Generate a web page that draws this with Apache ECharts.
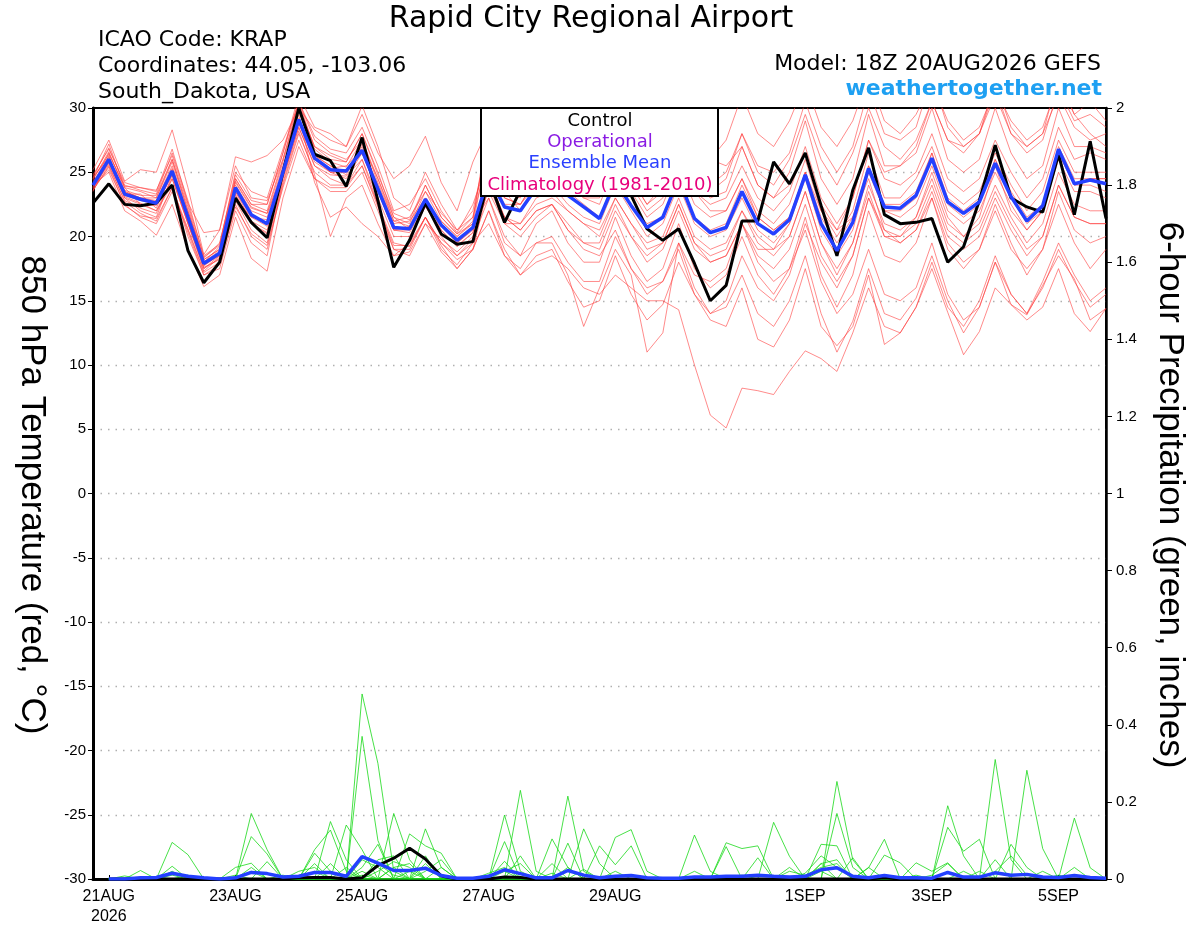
<!DOCTYPE html>
<html lang="en">
<head>
    <meta charset="UTF-8">
    <title>Rapid City Regional Airport | GEFS</title>
    <script src="https://cdn.jsdelivr.net/npm/echarts@6/dist/echarts.min.js"></script>
    <style>
        html, body { margin: 0; padding: 0; background: #fff; }
    </style>
</head>
<body>
<div id="chart" style="width: 1200px; height: 927px;"></div>

<script type="text/javascript">
    // 6-hourly steps from 18Z 20AUG2026 to 18Z 05SEP2026 (65 points)
    var tickIndex = [1, 9, 17, 25, 33, 45, 53, 61];
    var tickText = ['21AUG\n2026', '23AUG', '25AUG', '27AUG', '29AUG', '1SEP', '3SEP', '5SEP'];
    var tempTicks = [-30, -25, -20, -15, -10, -5, 0, 5, 10, 15, 20, 25, 30];

    // 850 hPa temperature, control and ensemble mean
    var ctlTemp = [22.6, 24.1, 22.5, 22.4, 22.6, 24.0, 18.9, 16.4, 18.0, 23.0, 21.1, 19.9, 25.0, 30.0, 26.4, 25.9, 23.9, 27.7, 22.8, 17.6,
        19.7, 22.6, 20.2, 19.4, 19.6, 24.5, 21.1, 23.6, 24.5, 24.8, 24.3, 24.0, 24.2, 24.6, 23.2, 20.6, 19.7, 20.6, 17.9, 15.0,
        16.2, 21.2, 21.2, 25.8, 24.1, 26.5, 22.4, 18.5, 23.6, 26.9, 21.7, 21.0, 21.1, 21.4, 18.0, 19.2, 22.8, 27.1, 23.0, 22.3,
        21.9, 26.4, 21.7, 27.4, 21.4];
    var meanTemp = [24.0, 26.0, 23.3, 22.9, 22.6, 25.1, 21.5, 17.9, 18.7, 23.8, 21.7, 21.0, 25.0, 29.1, 26.1, 25.2, 25.1, 26.7, 23.7, 20.7,
        20.6, 22.9, 20.9, 19.7, 20.7, 24.7, 22.3, 22.0, 23.8, 24.2, 23.2, 22.3, 21.4, 24.3, 22.4, 20.7, 21.5, 24.5, 21.4, 20.3,
        20.7, 23.5, 21.0, 20.2, 21.3, 24.8, 21.0, 18.9, 21.1, 25.3, 22.3, 22.2, 23.2, 26.1, 22.7, 21.8, 22.7, 25.7, 23.1, 21.2,
        22.4, 26.8, 24.1, 24.4, 24.1];

    // ensemble members, temperature
    var mem01 = [24.5,27.2,23.8,23.5,23.0, 26.0,22.3,18.2,19.0,24.5, 22.5,22.0,26.0,30.2,27.0, 26.0,25.8,28.0,25.0,21.5, 21.0,24.0,21.5,20.2,21.0, 27.0,24.5,24.0,26.5,28.0, 26.0,25.0,25.5,28.5,26.5, 25.0,26.0,29.5,27.0,26.0, 27.5,31.0,28.0,27.0,29.0, 32.0,28.5,27.0,29.0,32.5, 29.0,28.0,29.5,32.0,29.0, 27.5,28.5,31.5,28.0,27.0, 28.0,31.0,28.5,27.5,28.0];
    var mem02 = [23.6,25.5,22.8,22.2,21.8, 24.5,21.0,17.5,18.3,23.2, 21.0,20.2,24.5,28.5,25.5, 24.8,24.7,26.0,23.0,20.0, 20.0,22.3,20.5,19.2,20.3, 25.5,23.5,23.0,25.5,27.5, 27.0,26.0,27.5,30.5,28.0, 26.0,25.5,28.5,25.0,24.0, 25.0,28.0,25.0,24.0,26.0, 29.5,26.0,24.0,26.5,30.0, 27.0,26.0,27.5,30.5,27.5, 26.5,28.0,31.5,29.0,27.5, 28.5,32.0,29.5,28.0,27.0];
    var mem03 = [24.8,26.8,24.2,23.8,23.6, 26.3,22.5,18.5,19.4,24.8, 22.8,22.5,26.5,30.5,27.5, 26.5,26.0,27.5,24.5,21.2, 21.5,23.5,21.8,20.5,21.5, 26.5,24.0,23.8,25.8,26.5, 25.0,24.0,23.5,26.5,24.5, 22.5,23.5,26.5,23.5,22.5, 23.0,25.5,23.0,22.0,23.5, 27.0,23.0,21.0,23.0,27.5, 24.5,24.0,25.0,28.0,24.5, 23.5,24.5,27.5,25.0,23.0, 24.5,28.5,26.0,26.5,26.0];
    var mem04 = [23.8,25.2,22.5,21.5,21.0, 23.5,20.5,17.2,18.0,22.5, 20.0,19.0,24.0,28.0,25.0, 24.0,24.0,25.5,22.5,19.5, 19.2,21.5,19.5,18.5,19.5, 25.5,23.0,22.5,24.5,25.5, 24.0,23.0,22.5,25.5,23.5, 21.5,22.5,25.5,22.5,21.5, 22.0,24.5,22.0,21.0,22.5, 26.0,22.0,20.0,22.0,26.5, 23.0,23.0,24.5,27.0,23.5, 22.5,23.5,26.5,24.0,22.0, 23.5,27.5,25.0,25.0,25.0];
    var mem05 = [25.2,27.5,24.3,25.2,25.0, 28.3,23.8,18.6,20.5,26.2, 25.8,26.3,27.5,30.0,28.3, 27.5,27.0,29.5,26.5,24.5, 25.5,27.8,24.2,22.0,25.8, 28.5,23.5,22.0,23.5,24.0, 22.5,21.5,21.0,24.0,22.0, 20.0,21.0,24.0,21.0,20.0, 20.5,23.0,20.5,19.5,21.0, 24.5,20.5,18.5,20.5,25.0, 22.0,21.5,22.5,25.5,22.0, 21.0,22.0,25.0,22.5,20.5, 22.0,26.0,23.5,23.5,23.0];
    var mem06 = [23.9,26.3,23.0,22.0,21.5, 24.8,21.0,17.8,18.5,23.5, 21.2,20.5,25.3,29.5,24.2, 21.5,22.3,21.0,20.0,18.5, 18.8,21.0,19.8,18.8,20.0, 24.0,21.5,21.0,22.5,23.0, 22.0,21.0,20.0,23.0,21.0, 19.5,20.0,23.0,20.0,19.0, 19.5,22.0,19.5,18.5,20.0, 23.5,19.5,17.5,19.5,24.0, 21.0,20.5,21.5,24.5,21.0, 20.0,21.0,24.0,21.5,19.5, 21.0,25.0,22.5,22.0,22.0];
    var mem07 = [24.3,26.0,23.5,23.0,22.8, 25.5,21.8,18.0,18.9,24.0, 22.0,21.5,25.5,29.0,26.3, 25.5,25.0,27.0,24.0,21.0, 21.2,23.0,21.0,19.5,20.5, 23.5,21.0,20.0,21.5,22.5, 21.0,19.5,19.0,22.0,20.0, 18.0,19.0,22.0,19.0,18.0, 18.5,21.0,18.5,17.5,19.0, 22.5,18.5,16.5,18.5,23.0, 20.0,19.5,20.5,23.5,20.0, 19.0,20.0,23.0,20.5,18.5, 20.0,24.0,21.5,21.0,21.0];
    var mem08 = [23.7,25.8,23.3,23.3,22.2, 25.0,21.3,17.6,18.2,23.0, 21.5,21.3,24.8,28.8,25.8, 25.0,24.5,26.5,23.5,20.5, 20.3,22.5,20.0,18.5,19.8, 23.0,19.5,18.5,21.0,22.0, 19.5,18.0,18.0,21.5,18.5, 16.5,17.5,21.0,17.5,16.0, 17.0,20.0,17.0,15.5,17.5, 21.5,17.0,14.5,17.0,22.0, 18.5,18.0,19.5,23.0,19.0, 17.5,19.0,22.5,19.5,17.0, 19.0,23.5,20.5,19.5,20.0];
    var mem09 = [24.0,25.0,22.0,21.2,20.1, 22.5,19.0,16.1,17.0,21.5, 18.3,17.3,23.0,27.0,24.5, 23.5,23.5,25.0,22.0,19.0, 18.5,21.0,18.8,17.5,19.0, 22.0,19.0,17.0,18.5,19.0, 16.5,14.5,15.0,18.5,15.5, 13.5,14.7,18.0,15.5,14.0, 15.0,18.5,16.0,15.0,17.0, 21.0,18.0,16.0,18.5,23.0, 20.5,20.0,21.5,25.0,21.5, 20.0,21.5,25.5,22.0,20.5, 22.0,26.5,24.0,24.5,24.5];
    var mem10 = [24.1,26.5,23.8,22.5,22.0, 24.0,20.0,17.0,17.5,22.0, 19.5,18.5,24.5,28.5,25.5, 24.5,24.0,26.0,22.5,19.0, 19.0,21.5,19.0,17.8,19.5, 21.0,18.5,17.0,18.0,18.5, 17.5,16.0,15.5,17.0,16.0, 15.0,15.0,14.3,10.0,6.1, 5.1,8.2,8.0,7.7,9.5, 11.1,10.5,9.5,12.5,16.0, 13.0,12.5,14.5,18.0,14.5, 13.0,15.0,18.5,15.5,14.0, 16.0,19.0,16.5,14.5,15.5];
    var mem11 = [24.6,26.2,23.2,22.8,22.5, 25.3,21.5,18.0,19.2,24.2, 22.2,21.8,25.0,29.0,26.0, 25.3,25.5,26.8,23.8,20.8, 20.5,22.8,20.8,19.5,20.6, 24.5,21.5,20.5,22.0,22.5, 20.5,19.0,18.5,20.5,17.5, 15.5,16.5,19.5,16.0,14.0, 14.5,17.0,14.0,13.0,15.0, 18.5,14.0,11.0,13.4,17.5, 14.0,13.5,15.2,18.5,15.0, 12.5,14.5,18.0,15.5,14.0, 16.5,19.5,17.0,15.0,16.0];
    var mem12 = [23.5,26.0,23.5,23.0,23.0, 25.8,22.0,18.3,19.5,24.5, 22.5,22.5,26.5,31.0,28.5, 28.0,27.0,30.2,27.0,23.0, 22.0,25.0,22.5,20.5,22.0, 27.5,25.5,25.0,27.0,29.0, 27.5,27.0,28.0,31.0,29.0, 27.5,28.0,30.5,27.0,26.0, 25.5,27.0,24.0,23.0,24.0, 26.5,22.5,20.5,21.5,24.5, 20.5,19.5,20.5,23.0,19.5, 18.0,19.0,22.0,19.0,17.5, 19.0,22.5,19.5,17.5,19.0];
    var mem13 = [24.2,25.8,23.0,22.5,22.4, 24.8,21.2,17.7,18.6,23.5, 21.5,20.8,24.8,29.2,26.2, 25.0,25.2,26.5,23.5,20.5, 20.8,22.6,21.2,20.0,21.0, 23.0,20.0,18.5,19.5,19.5, 17.0,13.0,16.0,19.0,17.0, 11.0,12.5,19.5,17.0,16.5, 17.5,21.0,19.0,19.0,21.0, 25.0,22.0,20.5,23.0,27.5, 25.0,25.5,27.0,30.5,27.5, 27.0,28.0,31.0,28.0,26.5, 27.5,31.5,29.0,29.5,28.5];
    var mem14 = [24.4,26.6,23.6,23.2,23.2, 26.0,22.0,18.2,19.0,24.3, 22.3,21.8,25.8,30.0,27.0, 26.3,25.8,28.0,24.8,21.8, 21.3,24.0,21.5,20.2,21.5, 28.0,24.5,23.5,26.0,27.5, 25.5,24.0,23.5,27.5,24.5, 22.5,24.0,28.0,24.0,23.0, 23.5,27.0,24.0,23.0,25.0, 29.0,24.5,22.5,24.5,29.5, 25.5,25.5,26.5,30.0,26.0, 25.0,26.0,30.0,26.5,24.5, 25.5,30.0,27.0,27.0,26.5];
    var mem15 = [23.8,25.6,22.7,21.8,21.2, 23.8,20.6,17.3,18.4,22.8, 20.5,19.5,24.2,28.2,24.8, 20.0,23.0,24.0,21.0,18.5, 19.5,21.5,19.5,18.2,19.0, 22.0,18.5,17.5,19.5,20.0, 18.0,16.5,16.5,20.0,17.5, 16.0,16.5,19.0,15.5,13.5, 13.0,16.0,12.0,11.4,13.5, 17.5,13.0,11.5,13.0,17.0, 11.6,12.5,14.5,17.5,14.1, 10.8,12.6,16.0,14.7,13.9, 16.2,18.5,16.7,13.5,14.4];
    var mem16 = [24.7,26.9,24.0,23.6,23.3, 26.5,22.8,18.4,19.3,25.0, 23.5,23.0,26.8,30.5,27.8, 26.8,26.5,28.5,25.5,22.0, 22.5,24.5,22.0,20.3,22.5, 26.0,23.0,22.5,24.5,25.5, 24.0,23.0,23.0,26.0,24.0, 22.0,23.0,26.5,24.0,23.5, 24.5,28.0,25.5,25.0,26.5, 30.5,27.0,25.0,27.0,31.5, 28.0,27.5,28.5,32.5,28.5, 27.0,28.0,32.0,28.5,27.0, 28.0,32.5,29.5,30.5,29.0];
    var mem17 = [24.0,26.1,23.4,23.0,22.7, 25.2,21.6,18.0,18.7,23.7, 21.6,21.0,25.0,29.0,26.0, 25.0,25.0,26.5,23.5,20.5, 20.5,22.7,20.8,19.6,20.6, 25.0,22.5,22.5,24.0,24.5, 23.5,22.5,21.5,24.5,22.5, 21.0,21.5,24.5,21.5,20.5, 21.0,24.0,21.5,20.5,21.5, 25.0,21.5,19.5,21.5,25.5, 22.5,22.5,23.5,26.5,23.0, 22.0,23.0,26.0,23.5,21.5, 22.5,27.0,24.5,24.5,24.5];
    var mem18 = [23.6,25.4,22.4,21.6,21.4, 23.8,20.3,17.0,17.8,22.3, 20.2,19.3,23.8,27.5,24.5, 23.8,23.8,25.5,22.3,19.3, 19.3,21.5,19.3,17.5,19.0, 24.0,21.0,21.0,23.0,23.5, 22.0,21.0,20.5,23.0,21.0, 19.0,19.5,22.5,19.5,18.0, 18.5,21.0,18.0,16.5,17.5, 20.5,16.5,14.0,15.5,19.0, 15.5,15.0,16.0,19.5,15.5, 13.5,14.5,18.0,14.7,13.5, 14.5,17.5,14.0,12.6,14.4];
    var mem19 = [24.5,26.4,23.9,23.8,23.5, 26.8,22.6,20.3,20.5,25.5, 23.0,22.8,26.0,30.5,26.8, 25.8,25.4,27.5,24.2,21.2, 20.8,23.5,21.2,20.0,21.2, 29.0,26.0,25.5,28.0,30.0, 28.5,27.5,27.0,30.0,27.0, 25.0,25.0,27.5,23.5,22.0, 22.0,24.5,21.5,20.5,21.5, 25.0,21.0,19.0,21.0,25.5, 22.0,22.0,23.0,26.5,22.5, 21.5,22.5,26.0,23.0,21.0, 22.0,26.5,24.0,24.0,23.5];
    var mem20 = [23.9,25.7,23.1,22.6,22.0, 24.5,21.0,17.5,18.5,23.3, 21.0,20.3,24.7,28.8,26.3, 25.5,24.8,27.2,24.5,21.5, 20.5,23.0,20.5,19.3,20.3, 24.5,21.5,20.5,22.0,22.5, 20.5,19.5,19.5,22.5,20.0, 18.5,19.5,22.5,19.5,18.5, 19.0,22.0,20.0,19.0,20.0, 23.5,19.5,17.0,19.5,23.5, 20.0,20.0,21.0,24.0,20.5, 19.5,20.5,23.5,21.0,19.0, 20.0,24.0,21.5,21.0,21.0];
    var tempMembers = [mem01, mem02, mem03, mem04, mem05, mem06, mem07, mem08, mem09, mem10,
        mem11, mem12, mem13, mem14, mem15, mem16, mem17, mem18, mem19, mem20];

    // 6-hour precipitation (inches), control and ensemble mean
    var ctlPrcp = [null, 0,0,0,0, 0,0,0,0,0, 0,0,0,0.003,0.004, 0.004,0,0.003,0.035,0.054, 0.08,0.052,0.008,0,0, 0,0.005,0.004,0,0,
        0,0,0,0,0, 0,0,0,0,0, 0,0,0,0,0, 0,0,0,0,0, 0.003,0,0,0,0, 0,0,0,0,0, 0,0,0,0,0];
    var meanPrcp = [null, 0,0,0.003,0.004, 0.015,0.007,0.003,0,0.003, 0.017,0.014,0.005,0.007,0.017, 0.017,0.007,0.058,0.041,0.022,
        0.022,0.028,0.009,0.002,0.002, 0.007,0.024,0.014,0.003,0.003, 0.022,0.01,0.003,0.007,0.009, 0.003,0.002,0.002,0.005,0.005,
        0.007,0.007,0.01,0.007,0.005, 0.007,0.024,0.029,0.007,0.003, 0.009,0.003,0.003,0.002,0.017, 0.005,0.005,0.016,0.01,0.012,
        0.005,0.004,0.009,0.004,0.002];

    // ensemble members, precipitation
    var prc01 = [null,0,0,0,0, 0.095,0.063,0,0,0, 0,0,0,0,0, 0,0,0.48,0.30,0.02, 0,0,0,0,0, 0,0,0,0,0, 0,0,0,0,0, 0,0,0,0,0, 0,0,0,0,0, 0,0,0.253,0.05,0, 0,0,0,0,0, 0,0,0.31,0.05,0, 0,0,0,0,0];
    var prc02 = [null,0,0,0,0, 0,0,0,0,0, 0.17,0.076,0,0,0, 0,0,0.37,0.1,0, 0,0,0,0,0, 0,0,0.23,0.02,0, 0,0,0,0,0, 0,0,0,0,0, 0,0,0,0,0, 0,0,0,0,0, 0,0,0,0,0.19, 0.06,0,0,0,0, 0,0,0,0,0];
    var prc03 = [null,0,0,0.022,0, 0.033,0,0,0,0, 0,0,0,0,0, 0.149,0.05,0,0,0.17, 0.05,0,0,0,0, 0,0.166,0.02,0,0, 0,0,0,0,0, 0,0,0,0,0, 0,0,0,0,0, 0,0,0,0,0, 0,0,0,0,0, 0,0,0,0,0.282, 0.079,0,0,0,0];
    var prc04 = [null,0,0,0,0, 0,0,0,0,0, 0.11,0.065,0,0,0.076, 0.127,0.02,0,0,0, 0,0.13,0.03,0,0, 0,0,0,0,0, 0.215,0.02,0,0,0, 0,0,0,0,0, 0,0,0,0,0, 0,0,0.17,0.03,0, 0,0,0,0,0, 0,0,0,0,0, 0,0,0.158,0.029,0];
    var prc05 = [null,0,0,0,0, 0.02,0,0,0,0, 0,0,0,0,0, 0,0.14,0.076,0,0, 0.117,0.086,0.067,0,0, 0,0.097,0,0,0.104, 0.03,0,0,0,0, 0,0,0,0.114,0.02, 0,0,0,0,0, 0,0,0,0,0, 0,0,0,0,0.134, 0.072,0.103,0,0,0, 0,0,0,0,0];
    var prc06 = [null,0,0,0,0, 0,0,0,0,0.03, 0.041,0,0,0,0.067, 0.02,0,0,0.05,0.06, 0,0,0,0,0, 0,0.046,0,0,0, 0,0.13,0.04,0,0, 0,0,0,0,0, 0,0,0,0.147,0.059, 0,0.09,0.086,0,0, 0,0,0,0,0, 0,0,0,0,0, 0,0,0,0,0];
    var prc07 = [null,0,0,0,0, 0,0,0,0,0, 0,0.045,0,0,0, 0,0,0.03,0.09,0, 0,0.06,0,0,0, 0.015,0.03,0,0,0, 0.093,0,0,0.108,0.128, 0.02,0,0,0,0, 0,0,0,0,0, 0,0,0,0,0.029, 0.103,0,0,0,0, 0,0,0,0,0, 0,0,0,0,0];
    var prc08 = [null,0,0,0,0, 0,0.01,0,0,0, 0.02,0,0,0,0, 0.04,0,0.02,0,0.03, 0.04,0,0.03,0,0, 0,0,0,0,0, 0,0,0.086,0.037,0.086, 0,0,0,0,0, 0.094,0.079,0.086,0,0, 0,0,0,0,0, 0,0,0,0,0, 0,0,0,0.09,0.03, 0,0,0,0,0];
    var prc09 = [null,0,0,0,0, 0,0,0,0,0, 0,0,0,0.02,0.03, 0,0,0,0.02,0.045, 0.03,0,0,0,0, 0,0,0,0,0.04, 0,0,0,0,0, 0,0,0,0,0, 0.084,0,0.055,0,0, 0,0.04,0.05,0,0, 0.062,0.042,0,0,0, 0,0,0,0,0, 0,0,0,0,0];
    var prc10 = [null,0,0,0,0, 0.01,0,0,0,0, 0,0,0.01,0,0, 0,0,0.05,0.03,0, 0,0.04,0,0,0, 0,0,0,0,0, 0.03,0,0,0,0, 0,0,0,0,0, 0,0,0,0,0.02, 0.01,0.03,0.04,0,0, 0,0,0.042,0.02,0.042, 0,0,0,0,0, 0,0,0,0,0];
    var prc11 = [null,0,0.008,0,0, 0,0,0,0,0, 0.03,0,0,0,0.02, 0,0,0.01,0,0.03, 0,0,0,0,0, 0,0.02,0.04,0,0, 0,0,0,0,0, 0,0,0,0,0, 0,0,0,0,0, 0,0.02,0,0.055,0, 0,0,0,0,0, 0.02,0,0.05,0,0, 0,0.01,0,0,0];
    var prc12 = [null,0,0,0,0, 0,0,0,0,0, 0,0,0,0,0, 0,0,0,0.04,0.01, 0,0,0,0,0, 0.01,0.02,0,0,0, 0,0.025,0,0,0, 0,0,0,0,0, 0,0.01,0,0,0, 0.015,0.06,0.03,0,0, 0,0,0,0,0, 0,0.02,0,0,0, 0.02,0,0.03,0,0];
    var prc13 = [null,0,0,0,0.005, 0,0,0,0,0.01, 0,0,0,0,0.04, 0,0.03,0,0,0, 0.02,0,0,0,0, 0,0,0.06,0,0, 0,0,0,0.02,0, 0,0,0,0,0, 0,0,0,0,0, 0,0.04,0,0,0.03, 0,0,0,0.01,0.04, 0,0,0,0,0, 0,0,0,0,0];
    var prc14 = [null,0,0,0,0, 0,0,0,0,0, 0,0,0,0,0, 0,0,0,0,0, 0,0.02,0.05,0,0, 0,0,0,0,0.015, 0,0,0,0,0, 0,0,0,0.02,0, 0,0,0,0,0.03, 0,0,0,0,0, 0,0,0.01,0,0, 0,0,0.02,0.06,0.01, 0,0,0,0,0];
    var prcpMembers = [prc01, prc02, prc03, prc04, prc05, prc06, prc07, prc08, prc09, prc10, prc11, prc12, prc13, prc14];

    // time axis categories, one per 6 hours
    var categories = [];
    var t0 = Date.UTC(2026, 7, 20, 18);
    for (var k = 0; k < ctlTemp.length; k++) {
        var d = new Date(t0 + k * 6 * 3600 * 1000);
        categories.push(d.toISOString().slice(0, 13) + 'Z');
    }

    var FONT = '"Liberation Sans", Arial, Helvetica, sans-serif';
    var WIDE = '"DejaVu Sans", Verdana, sans-serif';
    var myChart = echarts.init(document.getElementById('chart'));

    var series = [];
    tempMembers.forEach(function (m, i) {
        series.push({
            name: 'temp member ' + (i + 1), type: 'line', data: m, yAxisIndex: 0,
            symbol: 'none', silent: true, z: 2,
            lineStyle: { color: '#ff3b3b', width: 0.7, opacity: 0.85 }
        });
    });
    prcpMembers.forEach(function (m, i) {
        series.push({
            name: 'precip member ' + (i + 1), type: 'line', data: m, yAxisIndex: 1,
            symbol: 'none', silent: true, z: 3,
            lineStyle: { color: '#19d919', width: 0.8 }
        });
    });
    series.push({ name: 'Control', type: 'line', data: ctlTemp, yAxisIndex: 0, symbol: 'none', z: 4,
        lineStyle: { color: '#000', width: 3 } });
    series.push({ name: 'Ensemble Mean', type: 'line', data: meanTemp, yAxisIndex: 0, symbol: 'none', z: 5,
        lineStyle: { color: '#2440ff', width: 3.5 } });
    series.push({ name: 'Control precip', type: 'line', data: ctlPrcp, yAxisIndex: 1, symbol: 'none', z: 4,
        lineStyle: { color: '#000', width: 3 } });
    series.push({ name: 'Mean precip', type: 'line', data: meanPrcp, yAxisIndex: 1, symbol: 'none', z: 5,
        lineStyle: { color: '#2440ff', width: 3.5 } });

    function txt(x, y, s, size, color, align, family, extra) {
        return {
            type: 'text', x: x, y: y, z: 20,
            style: { text: s, font: (extra || '') + size + 'px ' + family, fill: color, textAlign: align, textVerticalAlign: 'middle' }
        };
    }

    var legendItems = [['Control', '#000000'], ['Operational', '#8a1be3'], ['Ensemble Mean', '#2a40ff'], ['Climatology (1981-2010)', '#e8007c']];
    var graphics = [
        txt(591, 19, 'Rapid City Regional Airport', 30, '#000', 'center', WIDE),
        txt(98, 40, 'ICAO Code: KRAP', 22, '#000', 'left', WIDE),
        txt(98, 66, 'Coordinates: 44.05, -103.06', 22, '#000', 'left', WIDE),
        txt(98, 92, 'South_Dakota, USA', 22, '#000', 'left', WIDE),
        txt(1101, 64, 'Model: 18Z 20AUG2026 GEFS', 22, '#000', 'right', WIDE),
        txt(1102, 89, 'weathertogether.net', 22, '#1ea0f2', 'right', WIDE, 'bold '),
        {
            type: 'rect', z: 15,
            shape: { x: 481, y: 108, width: 237, height: 88 },
            style: { fill: '#fff', stroke: '#000', lineWidth: 2 }
        }
    ];
    legendItems.forEach(function (it, i) {
        graphics.push(txt(600, 121 + i * 21.3, it[0], 18, it[1], 'center', WIDE));
    });
    var leftTitle = txt(32, 495, '850 hPa Temperature (red, \u00B0C)', 35, '#000', 'center', FONT);
    leftTitle.rotation = -Math.PI / 2;
    var rightTitle = txt(1170, 495, '6-hour Precipitation (green, inches)', 35, '#000', 'center', FONT);
    rightTitle.rotation = -Math.PI / 2;
    graphics.push(leftTitle, rightTitle);

    var option = {
        animation: false,
        backgroundColor: '#fff',
        textStyle: { fontFamily: FONT },
        grid: { left: 93, right: 94, top: 108, bottom: 44, show: true, borderColor: '#000', borderWidth: 2, backgroundColor: 'transparent' },
        xAxis: {
            type: 'category',
            data: categories,
            boundaryGap: false,
            axisLine: { onZero: false, lineStyle: { color: '#000', width: 3 } },
            axisTick: {
                show: true, inside: true, length: 4,
                interval: function (idx) { return tickIndex.indexOf(idx) >= 0; },
                lineStyle: { color: '#000', width: 1 }
            },
            axisLabel: {
                interval: function (idx) { return tickIndex.indexOf(idx) >= 0; },
                formatter: function (val, idx) {
                    var p = tickIndex.indexOf(idx);
                    return p >= 0 ? tickText[p] : '';
                },
                color: '#000', fontSize: 16, lineHeight: 20, margin: 8, fontFamily: FONT
            },
            splitLine: { show: false }
        },
        yAxis: [
            {
                type: 'value', position: 'left',
                min: tempTicks[0], max: tempTicks[tempTicks.length - 1], interval: 5,
                axisLine: { show: true, lineStyle: { color: '#000', width: 3 } },
                axisTick: { show: true, length: 5, lineStyle: { color: '#000', width: 1 } },
                axisLabel: { color: '#000', fontSize: 15, margin: 7, fontFamily: FONT },
                splitLine: { show: true, showMinLine: false, showMaxLine: false,
                    lineStyle: { color: '#b0b0b0', width: 1.3, type: [1.5, 6] } }
            },
            {
                type: 'value', position: 'right',
                min: 0, max: 2, interval: 0.2,
                axisLine: { show: true, lineStyle: { color: '#000', width: 2.5 } },
                axisTick: { show: true, length: 6, lineStyle: { color: '#000', width: 1 } },
                axisLabel: { color: '#000', fontSize: 15, margin: 10, fontFamily: FONT },
                splitLine: { show: false }
            }
        ],
        graphic: graphics,
        series: series
    };

    myChart.setOption(option);
</script>
</body>
</html>
